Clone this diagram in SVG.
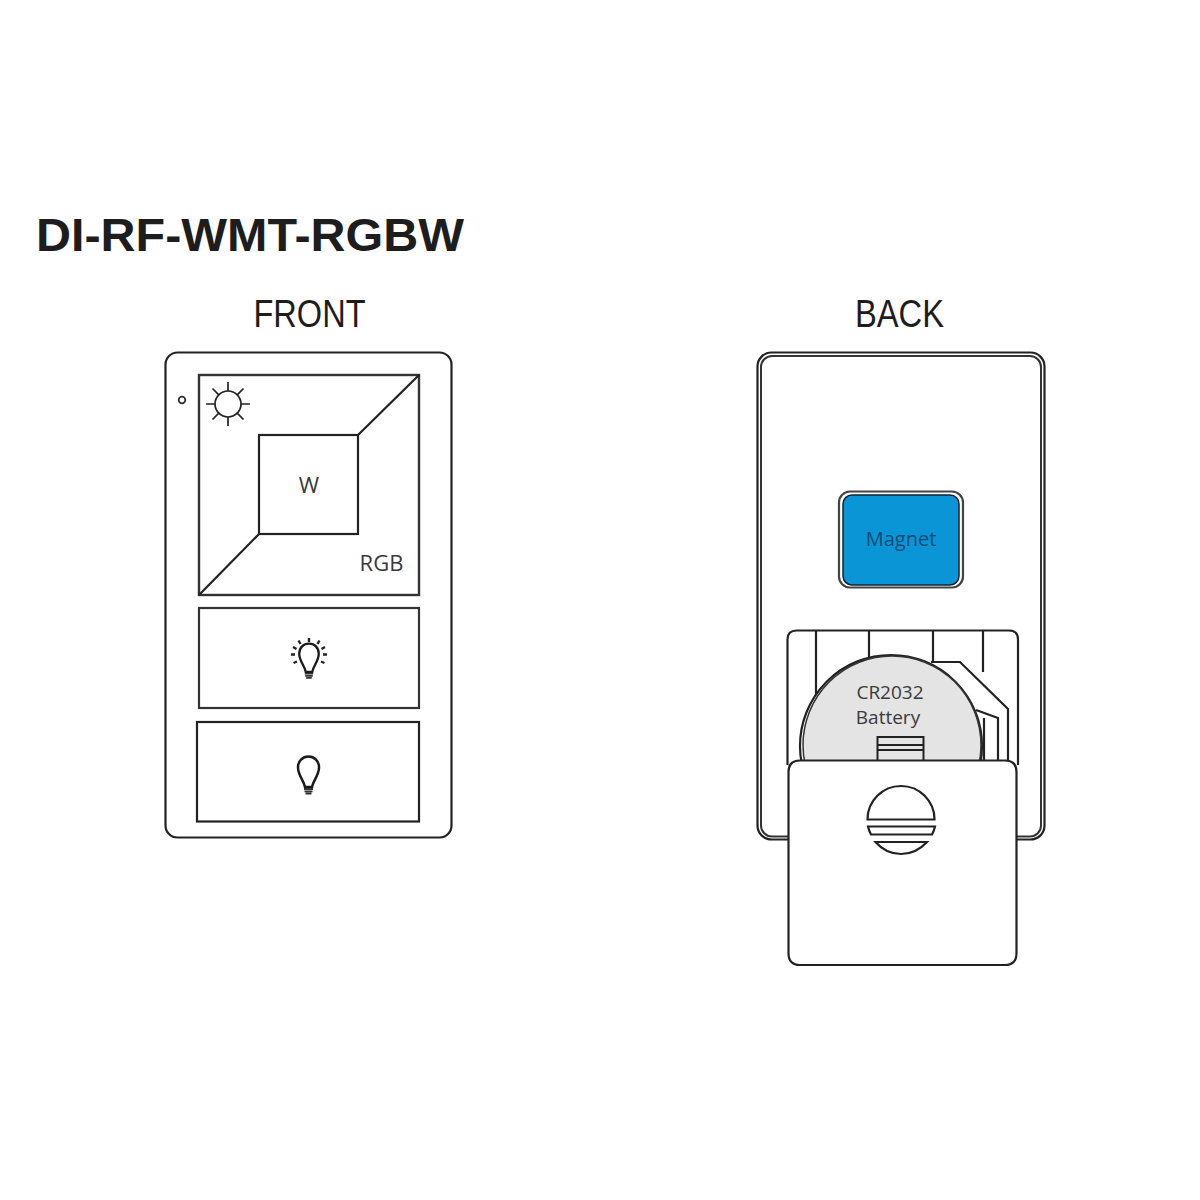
<svg xmlns="http://www.w3.org/2000/svg" width="1200" height="1200" viewBox="0 0 1200 1200">
<defs>
<style>
.l{fill:none;stroke:#222;stroke-width:2.200}
.w{fill:#fff;stroke:#222;stroke-width:2.200}
.t{font-family:"Open Sans","Noto Sans",sans-serif;fill:#3a3a3a}
.h{font-family:"Liberation Sans",Arial,sans-serif;fill:#1d1d1d;text-anchor:middle}
.c{text-anchor:middle}
</style>
<g id="bulb">
<path d="M-3.500 15.500C-4.500 9-10.500 4-10.500-4C-10.500-10.500 -6-15 0-15C6-15 10.500-10.500 10.500-4C10.500 4 4.500 9 3.500 15.500Z" fill="none" stroke="#1a1a1a" stroke-width="2.500"/>
<path d="M-4.500 17.500H4.500M-4 19.800H4M-3 22H3" fill="none" stroke="#333" stroke-width="1.800"/>
</g>
</defs>
<rect width="1200" height="1200" fill="#fff"/>
<text class="h" x="250" y="251" font-size="47" font-weight="700" textLength="428" lengthAdjust="spacingAndGlyphs">DI-RF-WMT-RGBW</text>
<text class="h" x="309.500" y="327" font-size="38" textLength="112" lengthAdjust="spacingAndGlyphs">FRONT</text>
<text class="h" x="899.500" y="327" font-size="38" textLength="89" lengthAdjust="spacingAndGlyphs">BACK</text>

<g id="front">
<rect class="l" x="165.500" y="352.500" width="286" height="485" rx="12"/>
<circle cx="182" cy="400" r="3.300" fill="none" stroke="#333" stroke-width="1.800"/>
<g id="rgb-button">
<rect x="199" y="375" width="220" height="220" fill="none" stroke="#333" stroke-width="2.400"/>
<rect class="l" x="259" y="435" width="99" height="99"/>
<path class="l" d="M419 375L358 435M199 595L259 534"/>
<circle cx="228" cy="404" r="13" fill="none" stroke="#222" stroke-width="1.700"/>
<path d="M228 382V391M228 417V426M206 404H215M241 404H250M212.500 388.500L218.800 394.800M243.500 388.500L237.200 394.800M212.500 419.500L218.800 413.200M243.500 419.500L237.200 413.200" fill="none" stroke="#222" stroke-width="1.700"/>
<text class="t c" x="309" y="493" font-size="22">W</text>
<text class="t c" x="381.500" y="571" font-size="22">RGB</text>
</g>
<g id="bright-button">
<rect x="199" y="608" width="220" height="100" fill="none" stroke="#333" stroke-width="2.200"/>
<use href="#bulb" transform="translate(309 657.500) scale(.93)"/>
<path d="M309 638V642M298.500 640.500L300.500 644M319.500 640.500L317.500 644M293 647L296.500 649M325 647L321.500 649M291 654.500H295M327 654.500H323M293.500 663L297 661.500M324.500 663L321 661.500" fill="none" stroke="#222" stroke-width="2.400"/>
</g>
<g id="dim-button">
<rect class="l" x="197" y="722" width="222" height="99.500"/>
<use href="#bulb" transform="translate(308.500 771.500)"/>
</g>
</g>

<g id="back">
<rect class="l" x="757.500" y="352.500" width="287" height="487" rx="14"/>
<rect x="761" y="356" width="280" height="480.500" rx="11" fill="none" stroke="#333" stroke-width="2"/>
<g id="magnet">
<rect x="839" y="491.500" width="124" height="96" rx="11" fill="#fff" stroke="#444" stroke-width="2.200"/>
<rect x="843" y="495" width="116" height="90" rx="9" fill="#0a96d6" stroke="#123" stroke-width="1.500"/>
<text class="c" x="901" y="546" font-size="20" font-family="'Open Sans','Noto Sans',sans-serif" fill="#0d4a73">Magnet</text>
</g>
<g id="battery">
<path class="w" d="M787.500 765V639.500Q787.500 630.500 796.500 630.500H1009Q1018 630.500 1018 639.500V765"/>
<path class="l" d="M816 630V700M869 630V665M933 630V662M983 630V672"/>
<path d="M931 662H960L1008 709V762" class="w"/>
<path d="M976 710L998 718V762M984 718V762" class="l"/>
<circle cx="891" cy="746" r="91" fill="#fff" stroke="#222" stroke-width="2.200"/>
<circle cx="892" cy="745" r="89" fill="#e4e4e4" stroke="#333" stroke-width="1.500"/>
<text class="t c" x="890" y="699" font-size="19">CR2032</text>
<text class="t c" x="888" y="724" font-size="19">Battery</text>
<rect x="877.500" y="737" width="46" height="24" fill="#e4e4e4" stroke="#222" stroke-width="2"/>
<path d="M877 745H924M877 750H924" fill="none" stroke="#222" stroke-width="1.800"/>
</g>
<g id="cover">
<path d="M800 760.500H1005Q1016.500 760.500 1016.500 772V953Q1016.500 965 1005 965H800Q788.500 965 788.500 953V772Q788.500 760.500 800 760.500Z" fill="#fff" stroke="#222" stroke-width="2.200"/>
<path class="l" d="M867.500 819.500A33.500 33.500 0 0 1 934.500 819.500Z"/>
<path class="l" d="M868 826.500H935Q934 831 932 834.500H871Q869 831 868 826.500Z"/>
<path class="l" d="M875.500 842H927Q916 854 901 854Q886 854 875.500 842Z"/>
</g>
</g>
</svg>
